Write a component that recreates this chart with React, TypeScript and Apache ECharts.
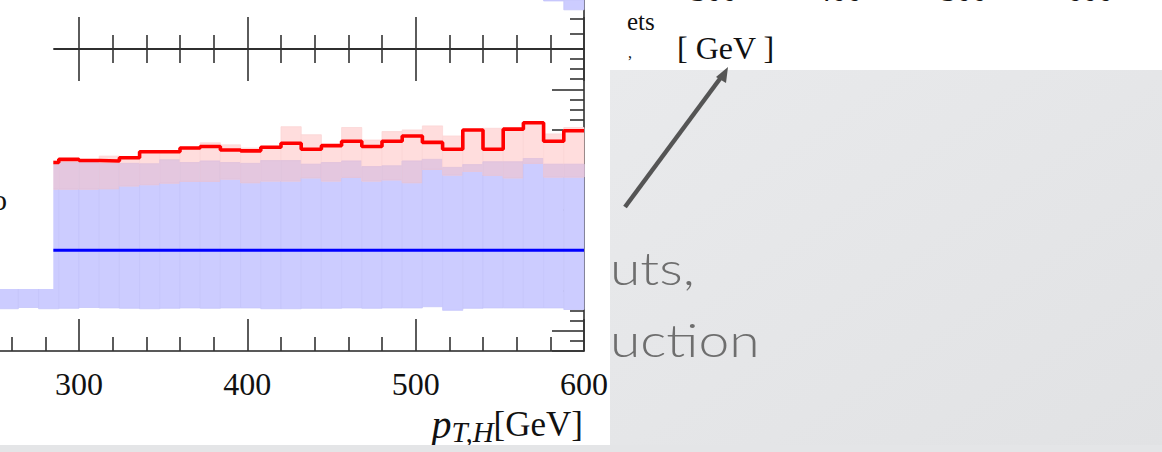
import React, { useEffect, useRef } from "react";
import * as echarts from "echarts";

// Bin edges of the histogram (GeV)
const binEdges = [252, 264, 276, 288, 300, 312, 324, 336, 348, 360, 372, 384, 396, 408, 420, 432, 444, 456, 468, 480, 492, 504, 516, 528, 540, 552, 564, 576, 588, 600];

// Red prediction (ratio): central value and band
const redCentral = [1.215, 1.216, 1.218, 1.226, 1.223, 1.222, 1.230, 1.245, 1.245, 1.254, 1.258, 1.249, 1.247, 1.256, 1.266, 1.251, 1.260, 1.271, 1.258, 1.271, 1.284, 1.268, 1.251, 1.299, 1.251, 1.301, 1.317, 1.271, 1.297];
const redUp = [1.220, 1.221, 1.222, 1.224, 1.224, 1.234, 1.233, 1.245, 1.246, 1.256, 1.267, 1.262, 1.254, 1.258, 1.307, 1.287, 1.262, 1.305, 1.274, 1.295, 1.299, 1.309, 1.284, 1.300, 1.303, 1.303, 1.318, 1.289, 1.305];
const redDown = [1.150, 1.151, 1.152, 1.152, 1.152, 1.153, 1.160, 1.163, 1.167, 1.171, 1.171, 1.177, 1.168, 1.172, 1.172, 1.180, 1.172, 1.181, 1.172, 1.175, 1.168, 1.201, 1.187, 1.196, 1.186, 1.180, 1.216, 1.182, 1.182];

// Blue reference (ratio = 1) and its band
const blueCentral = 1.0;
const blueUp = [1.218, 1.218, 1.218, 1.219, 1.218, 1.216, 1.216, 1.215, 1.225, 1.218, 1.222, 1.218, 1.216, 1.223, 1.223, 1.214, 1.218, 1.222, 1.208, 1.210, 1.222, 1.226, 1.206, 1.213, 1.220, 1.220, 1.228, 1.214, 1.214];
const blueDown = [0.855, 0.858, 0.855, 0.856, 0.858, 0.857, 0.856, 0.855, 0.856, 0.857, 0.856, 0.857, 0.857, 0.855, 0.855, 0.856, 0.856, 0.857, 0.856, 0.857, 0.857, 0.860, 0.851, 0.856, 0.857, 0.857, 0.857, 0.857, 0.853];

// Upper panel: visible part of its band (last two bins)
const upperBinLow = [576, 588];
const upperBinHigh = [588, 600];
const upperBandLow = [4.9, 4.0];
const upperBandHigh = [6.5, 6.5];
const upperTickValues = [1.6, 3.1];

// Axis settings
const xMin = 200;
const xMax = 600;
const xMajor = 100;
const yMin = 0.75;
const yMax = 1.5;

// Partial labels of the neighbouring figure
const otherTickLabels = ["300", "400", "500", "600"];

const BLUE = "#ccccff";
const PINK = "#ffdddd";
const MAUVE = "#e4c7df";

// the chart canvas is shifted left so that the axis can start off-screen
const OFF = 100;

export default function App() {
  const ref = useRef<HTMLDivElement>(null);
  useEffect(() => {
    if (!ref.current) return;
    const chart = echarts.init(ref.current, null, { renderer: "svg" });

    const bandData = binEdges.slice(0, -1).map((e, i) => [e, binEdges[i + 1], blueDown[i], blueUp[i], redDown[i], redUp[i]]);
    const redLine = binEdges.map((e, i) => [e, redCentral[Math.min(i, redCentral.length - 1)]]);
    const blueLine = [[binEdges[0], blueCentral], [binEdges[binEdges.length - 1], blueCentral]];
    const upperData = upperBinLow.map((e, i) => [e, upperBinHigh[i], upperBandLow[i], upperBandHigh[i]]);

    const mkRect = (api: any, params: any, x0: number, x1: number, lo: number, hi: number, fill: string, stroke?: string) => {
      const p0 = api.coord([x0, hi]);
      const p1 = api.coord([x1, lo]);
      const cs = params.coordSys;
      const shape = echarts.graphic.clipRectByRect(
        { x: p0[0], y: p0[1], width: p1[0] - p0[0], height: p1[1] - p0[1] },
        { x: cs.x, y: cs.y, width: cs.width, height: cs.height }
      );
      if (!shape) return null;
      return { type: "rect", shape, style: { fill, stroke: stroke || "none", lineWidth: stroke ? 0.8 : 0 } };
    };

    const tickStyle = { color: "#333", width: 1.6 };
    const lineStyle = { color: "#222", width: 1.5 };

    const mkX = (gridIndex: number, position: string, inside: boolean, showLine = true) => ({
      type: "value",
      gridIndex,
      position,
      min: xMin,
      max: xMax,
      interval: xMajor,
      axisLine: { show: showLine, onZero: false, lineStyle },
      axisTick: { show: true, inside, length: 32, lineStyle: tickStyle },
      minorTick: { show: true, splitNumber: 5, length: 14, lineStyle: tickStyle },
      axisLabel: { show: false },
      splitLine: { show: false },
    });

    const gridLeft = OFF + 79 - 168.35;
    const gridRight = 578;

    const option: any = {
      animation: false,
      backgroundColor: "#ffffff",
      grid: [
        { left: gridLeft, right: gridRight, top: 49, height: 302, outerBoundsMode: "none", containLabel: false },
        { left: gridLeft, right: gridRight, top: 0, height: 49, outerBoundsMode: "none", containLabel: false },
      ],
      xAxis: [
        {
          ...mkX(0, "bottom", true),
          axisLabel: {
            show: true,
            fontFamily: "Liberation Serif",
            fontSize: 32,
            color: "#111",
            margin: 17,
          },
        },
        mkX(0, "top", true),
        mkX(1, "bottom", true),
      ],
      yAxis: [
        {
          type: "value",
          gridIndex: 0,
          position: "right",
          min: yMin,
          max: yMax,
          splitNumber: 8,
          axisLine: { show: true, onZero: false, lineStyle },
          axisTick: { show: true, inside: true, length: 32, lineStyle: tickStyle },
          minorTick: { show: true, splitNumber: 4, length: 14, lineStyle: tickStyle },
          axisLabel: { show: false },
          splitLine: { show: false },
        },
        {
          type: "value",
          gridIndex: 1,
          position: "right",
          min: 0,
          max: 5,
          axisLine: { show: true, onZero: false, lineStyle },
          axisTick: { show: true, inside: true, length: 14, lineStyle: tickStyle, customValues: upperTickValues },
          axisLabel: { show: false },
          splitLine: { show: false },
        },
      ],
      series: [
        {
          type: "custom",
          name: "bands",
          xAxisIndex: 0,
          yAxisIndex: 0,
          z: 2,
          encode: { x: [0, 1], y: [2, 3, 4, 5] },
          data: bandData,
          renderItem: (params: any, api: any) => {
            const x0 = api.value(0), x1 = api.value(1);
            const bl = api.value(2), bh = api.value(3), pl = api.value(4), ph = api.value(5);
            const children: any[] = [];
            const b = mkRect(api, params, x0, x1, bl, bh, BLUE, "#c5c5fa");
            if (b) children.push(b);
            const p = mkRect(api, params, x0, x1, pl, ph, PINK, "#fbd6d6");
            if (p) children.push(p);
            const ol = Math.max(bl, pl), oh = Math.min(bh, ph);
            if (oh > ol) {
              const m = mkRect(api, params, x0, x1, ol, oh, MAUVE, "#dfc2dc");
              if (m) children.push(m);
            }
            return { type: "group", children };
          },
        },
        {
          type: "custom",
          name: "upper",
          xAxisIndex: 2,
          yAxisIndex: 1,
          z: 2,
          encode: { x: [0, 1], y: [2, 3] },
          data: upperData,
          renderItem: (params: any, api: any) => {
            const r = mkRect(api, params, api.value(0), api.value(1), api.value(2), api.value(3), BLUE, "#c5c5fa");
            return r || { type: "group", children: [] };
          },
        },
        {
          type: "line",
          name: "reference",
          xAxisIndex: 0,
          yAxisIndex: 0,
          data: blueLine,
          showSymbol: false,
          lineStyle: { color: "#0000ff", width: 3 },
          z: 4,
        },
        {
          type: "line",
          name: "prediction",
          xAxisIndex: 0,
          yAxisIndex: 0,
          data: redLine,
          step: "end",
          showSymbol: false,
          lineStyle: { color: "#ff0000", width: 3.6 },
          z: 5,
        },
      ],
      graphic: [
        // white legend area of the figure covering upper left
        { type: "rect", z: 100, shape: { x: 0, y: 0, width: OFF + 53.3, height: 289 }, style: { fill: "#ffffff" } },
        { type: "text", z: 101, x: OFF - 8, y: 199, style: { text: "o", fontFamily: "Liberation Serif", fontSize: 30, fill: "#111", textVerticalAlign: "middle" } },
        // axis title
        {
          type: "text",
          z: 101,
          x: OFF + 583,
          y: 424,
          style: {
            text: "{p|p}{s|T,H}{n|[GeV]}",
            textAlign: "right",
            textVerticalAlign: "middle",
            rich: {
              p: { fontFamily: "Liberation Serif", fontStyle: "italic", fontSize: 40, fill: "#111", lineHeight: 44, verticalAlign: "middle" },
              s: { fontFamily: "Liberation Serif", fontStyle: "italic", fontSize: 29, fill: "#111", lineHeight: 26, verticalAlign: "bottom" },
              n: { fontFamily: "Liberation Serif", fontSize: 35, fill: "#111", lineHeight: 44, verticalAlign: "middle" },
            },
          },
        },
        // slide background (grey)
        {
          type: "rect",
          z: 200,
          shape: { x: OFF + 610, y: 70, width: 552, height: 382 },
          style: {
            fill: new echarts.graphic.LinearGradient(0, 0, 1, 1, [
              { offset: 0, color: "#e9eaec" },
              { offset: 0.5, color: "#e5e6e8" },
              { offset: 1, color: "#e1e2e4" },
            ]),
          },
        },
        { type: "rect", z: 200, shape: { x: 0, y: 445, width: OFF + 1162, height: 7 }, style: { fill: "#e4e5e7" } },
        // slide text
        { type: "text", z: 201, x: OFF + 610, y: 290, scaleX: 1.2, style: { text: "uts,", fontFamily: "Lato", fontWeight: 300, fontSize: 46, fill: "#6e6e6e", textVerticalAlign: "bottom" } },
        { type: "text", z: 201, x: OFF + 610, y: 362, scaleX: 1.2, style: { text: "uction", fontFamily: "Lato", fontWeight: 300, fontSize: 46, fill: "#6e6e6e", textVerticalAlign: "bottom" } },
        // arrow
        { type: "line", z: 202, shape: { x1: OFF + 625, y1: 207, x2: OFF + 722, y2: 76 }, style: { stroke: "#555555", lineWidth: 4.5 } },
        { type: "polygon", z: 202, shape: { points: [[OFF + 728, 67], [OFF + 716, 77], [OFF + 726, 83]] }, style: { fill: "#555555" } },
        // neighbouring figure texts
        { type: "text", z: 50, x: OFF + 627, y: 34, style: { text: "ets", fontFamily: "Liberation Serif", fontSize: 25, fill: "#111", textVerticalAlign: "bottom" } },
        { type: "text", z: 50, x: OFF + 628, y: 60, style: { text: ",", fontFamily: "Liberation Serif", fontSize: 16, fill: "#111", textVerticalAlign: "bottom" } },
        { type: "text", z: 50, x: OFF + 677, y: 64, style: { text: "[ GeV ]", fontFamily: "Liberation Serif", fontSize: 32, fill: "#111", textVerticalAlign: "bottom" } },
        ...otherTickLabels.map((t, i) => ({
          type: "text",
          z: 50,
          x: OFF + [714, 839, 964, 1090][i],
          y: 5.5,
          style: { text: t, fontFamily: "Liberation Serif", fontSize: 31, fill: "#111", textAlign: "center", textVerticalAlign: "bottom" },
        })),
      ],
    };
    chart.setOption(option);
    return () => chart.dispose();
  }, []);
  return <div ref={ref} style={{ position: "absolute", left: -OFF, top: 0, width: 1162 + OFF, height: 452 }} />;
}
